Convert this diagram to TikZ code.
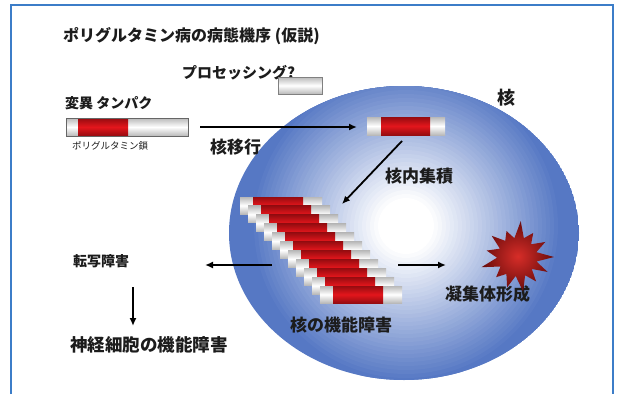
\documentclass[tikz,border=0pt]{standalone}
\usepackage{fontspec}
\newfontfamily\jp{Noto Sans CJK JP}
\usetikzlibrary{arrows.meta}

\definecolor{framecol}{RGB}{60,125,200}
\definecolor{nucblue}{RGB}{86,120,196}
\definecolor{barred}{RGB}{228,22,28}
\definecolor{bardark}{RGB}{150,12,16}
\definecolor{capgray}{RGB}{185,185,185}
\definecolor{txt}{RGB}{28,28,28}
\definecolor{starred}{RGB}{215,45,40}
\definecolor{stardark}{RGB}{105,12,12}

% a protein bar: #1,#2 top-left, #3 width, #4 height, #5/#6 start/end of the polyQ stretch
\newcommand\qbar[6]{%
  \shade[top color=capgray, bottom color=capgray, middle color=white]
    (#1,#2) rectangle ++(#3,#4);
  \shade[top color=bardark, bottom color=bardark, middle color=barred]
    (#1+#5,#2) rectangle (#1+#6,#2+#4);
}

\tikzset{
  lbl/.style={inner sep=0pt, text=txt, font=\jp\bfseries\fontsize{17}{17}\selectfont},
  flow/.style={line width=1.8pt, -{Latex[length=8pt,width=7pt]}},
}

\begin{document}
\begin{tikzpicture}[x=1pt, y=-1pt]
\useasboundingbox (0,0) rectangle (619,394);
\fill[white] (0,0) rectangle (619,394);

% frame
\draw[framecol, line width=1.2pt] (11,394) -- (11,5) -- (613,5) -- (613,394);

% nucleus: blue body with a white glow near its centre
\begin{scope}
  \clip (404,233) ellipse [x radius=175, y radius=147];
  \fill[nucblue] (404,233) ellipse [x radius=175, y radius=147];
  \foreach \r in {156,152,...,4} {
    \pgfmathsetmacro\w{min(100,100*(156-\r)/128)}
    \fill[white!\w!nucblue] (406,226) circle [radius=\r];
  }
\end{scope}

% title and labels
\node[lbl, anchor=west, font=\jp\bfseries\fontsize{16}{16}\selectfont] (title) at (63,36) {ポリグルタミン病の病態機序 (仮説)};
\node[lbl, anchor=west, font=\jp\bfseries\fontsize{15}{15}\selectfont] (proc) at (182,73) {プロセッシング?};
\node[lbl, anchor=west, font=\jp\bfseries\fontsize{14}{14}\selectfont] (mut) at (65,103) {変異 タンパク};
\node[lbl, anchor=west, font=\jp\fontsize{9.5}{9.5}\selectfont] (polyq) at (72,146) {ポリグルタミン鎖};
\node[lbl, anchor=west] (transport) at (210,147) {核移行};
\node[lbl, anchor=center, font=\jp\bfseries\fontsize{18}{18}\selectfont] (nuc) at (506,98) {核};
\node[lbl, anchor=west] (accum) at (385,176) {核内集積};
\node[lbl, anchor=west] (aggr) at (445,294) {凝集体形成};
\node[lbl, anchor=west] (nucdys) at (290,325) {核の機能障害};
\node[lbl, anchor=west, font=\jp\bfseries\fontsize{14}{14}\selectfont] (transc) at (73,261) {転写障害};
\node[lbl, anchor=west, font=\jp\bfseries\fontsize{17.5}{17.5}\selectfont] (neuron) at (70,345) {神経細胞の機能障害};

% cleaved fragment
\shade[draw=gray, top color=capgray, bottom color=capgray, middle color=white]
  (278,77) rectangle (322,94);

% mutant protein in the cytoplasm
\qbar{66}{118}{122}{18}{12}{62}
\draw[gray!80!black, line width=0.6pt] (66,118) rectangle (188,136);

% protein after entering the nucleus
\qbar{367}{117}{78}{18}{14}{63}

% stacked aggregate
\foreach \i in {0,...,10} {
  \qbar{240+8*\i}{197+8.9*\i}{82}{17}{13}{63}
}

% aggregate burst
\shade[inner color=starred, outer color=stardark, shift={(517,257)}]
  (0:37)
  -- (13:20) -- (26:34) -- (39:19) -- (52:31) -- (66:20) -- (80:35)
  -- (94:19) -- (108:32) -- (122:20) -- (136:29) -- (150:19) -- (164:37)
  -- (178:20) -- (192:31) -- (206:19) -- (220:33) -- (234:20) -- (248:28)
  -- (262:19) -- (276:36) -- (290:20) -- (304:29) -- (318:19) -- (332:32)
  -- (346:20) -- cycle;

% connector end points
\coordinate (c-in)   at (200,127);
\coordinate (c-nuc)  at (357,127);
\coordinate (c-acc1) at (402,141);
\coordinate (c-acc2) at (342,204);
\coordinate (c-l1)   at (272,265);
\coordinate (c-l2)   at (205,265);
\coordinate (c-r1)   at (398,265);
\coordinate (c-r2)   at (446,265);
\coordinate (c-d1)   at (133,287);
\coordinate (c-d2)   at (133,326);

\draw[flow, line width=2pt] (c-in) -- (c-nuc);
\draw[flow] (c-acc1) -- (c-acc2);
\draw[flow] (c-l1) -- (c-l2);
\draw[flow] (c-r1) -- (c-r2);
\draw[flow] (c-d1) -- (c-d2);
\end{tikzpicture}
\end{document}
